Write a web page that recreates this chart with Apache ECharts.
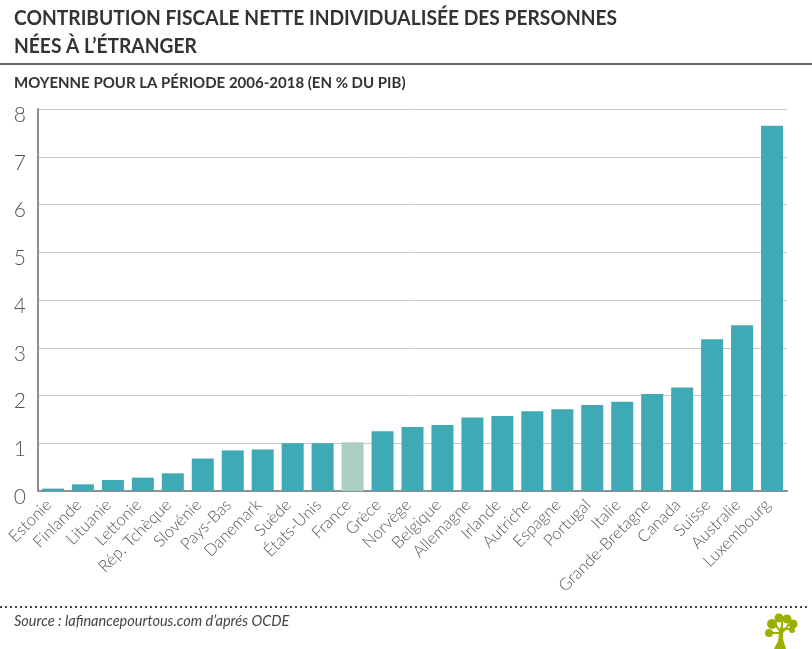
<!DOCTYPE html>
<html>
<head>
<meta charset="utf-8">
<style>
  html, body { margin: 0; padding: 0; background: #fff; }
  #chart { width: 812px; height: 649px; }
</style>
<script src="https://cdn.jsdelivr.net/npm/echarts@6/dist/echarts.min.js"></script>
</head>
<body>
<div id="chart"></div>
<script>
// données
const pays = ['Estonie', 'Finlande', 'Lituanie', 'Lettonie', 'Rép. Tchèque', 'Slovénie', 'Pays-Bas', 'Danemark',
    'Suède', 'États-Unis', 'France', 'Grèce', 'Norvège', 'Belgique', 'Allemagne', 'Irlande', 'Autriche', 'Espagne',
    'Portugal', 'Italie', 'Grande-Bretagne', 'Canada', 'Suisse', 'Australie', 'Luxembourg'];
const contribution = [0.05, 0.14, 0.23, 0.28, 0.37, 0.68, 0.85, 0.87, 1.0, 1.0, 1.02, 1.25, 1.34, 1.38, 1.54, 1.57,
    1.67, 1.71, 1.8, 1.87, 2.03, 2.17, 3.18, 3.47, 7.65];
const paysClair = 'France';
const titreTexte = 'CONTRIBUTION FISCALE NETTE INDIVIDUALISÉE DES PERSONNES\nNÉES À L’ÉTRANGER';
const sousTitreTexte = 'MOYENNE POUR LA PÉRIODE 2006-2018 (EN % DU PIB)';
const sourceTexte = 'Source : lafinancepourtous.com d’aprés OCDE';

const chart = echarts.init(document.getElementById('chart'));
const vert = '#9bb000';

const option = {
    animation: false,
    backgroundColor: '#fff',
    title: [
        {
            text: sousTitreTexte, left: 9, top: 71,
            textStyle: { fontFamily: 'Lato', fontSize: 15, fontWeight: 'bold', color: '#333' }
        },
        {
            text: sourceTexte, left: 9, top: 609,
            textStyle: { fontFamily: 'Lato', fontSize: 14.5, fontWeight: 'normal', fontStyle: 'italic', color: '#444' }
        }
    ],
    grid: { left: 38, right: 25, top: 109, bottom: 158 },
    xAxis: {
        type: 'category',
        data: pays,
        axisLine: { lineStyle: { color: '#8f8f8f', width: 2 } },
        axisTick: { show: false },
        axisLabel: {
            interval: 0, rotate: 45, margin: 7, padding: [0, 6, 0, 0],
            fontFamily: 'Lato', fontWeight: 300, fontSize: 16.5, color: '#555'
        }
    },
    yAxis: {
        type: 'value', min: 0, max: 8, interval: 1,
        axisLine: { show: true, lineStyle: { color: '#8f8f8f', width: 2 } },
        axisTick: { show: false },
        splitLine: { lineStyle: { color: '#c9c9c9', width: 1 } },
        axisLabel: {
            margin: 12, verticalAlign: 'top', lineHeight: 12,
            fontFamily: 'Lato', fontWeight: 300, fontSize: 21, color: '#555'
        }
    },
    series: [{
        type: 'bar',
        barWidth: 22,
        data: contribution.map((v, i) => ({
            value: v,
            itemStyle: { color: pays[i] === paysClair ? '#abcdc3' : '#3faab6' }
        }))
    }],
    graphic: [
        // titre un peu resserré, la police d'origine est plus étroite
        { type: 'text', x: 14, y: 4, scaleX: 0.915,
          style: { text: titreTexte, fontFamily: 'Lato', fontSize: 21, fontWeight: 'bold', fill: '#333', lineHeight: 28 } },
        { type: 'line', shape: { x1: 0, y1: 64, x2: 812, y2: 64 }, style: { stroke: '#666', lineWidth: 2 } },
        { type: 'line', shape: { x1: 0, y1: 607, x2: 808, y2: 607 },
          style: { stroke: '#444', lineWidth: 2, lineDash: [2, 3] } },
        // logo arbre
        { type: 'group', x: 781, y: 649, children: [
            { type: 'polygon', shape: { points: [[-7, 0], [-3, -8], [-1, -22], [2, -22], [2, -10], [5, 0]] }, style: { fill: vert } },
            { type: 'line', shape: { x1: 0, y1: -16, x2: -10, y2: -16 }, style: { stroke: vert, lineWidth: 2 } },
            { type: 'line', shape: { x1: 0, y1: -16, x2: -7, y2: -27 }, style: { stroke: vert, lineWidth: 2 } },
            { type: 'line', shape: { x1: 1, y1: -18, x2: 1, y2: -30 }, style: { stroke: vert, lineWidth: 2 } },
            { type: 'line', shape: { x1: 1, y1: -16, x2: 9, y2: -26 }, style: { stroke: vert, lineWidth: 2 } },
            { type: 'line', shape: { x1: 2, y1: -20, x2: 11, y2: -20 }, style: { stroke: vert, lineWidth: 2 } },
            { type: 'circle', shape: { cx: -12, cy: -16, r: 4 }, style: { fill: vert } },
            { type: 'circle', shape: { cx: -9, cy: -25, r: 5 }, style: { fill: vert } },
            { type: 'circle', shape: { cx: -2, cy: -31, r: 4.5 }, style: { fill: vert } },
            { type: 'circle', shape: { cx: 6, cy: -30, r: 4.5 }, style: { fill: vert } },
            { type: 'circle', shape: { cx: 12, cy: -25, r: 4.5 }, style: { fill: vert } },
            { type: 'circle', shape: { cx: 11, cy: -19, r: 3 }, style: { fill: vert } }
        ] }
    ]
};

chart.setOption(option);
</script>
</body>
</html>
